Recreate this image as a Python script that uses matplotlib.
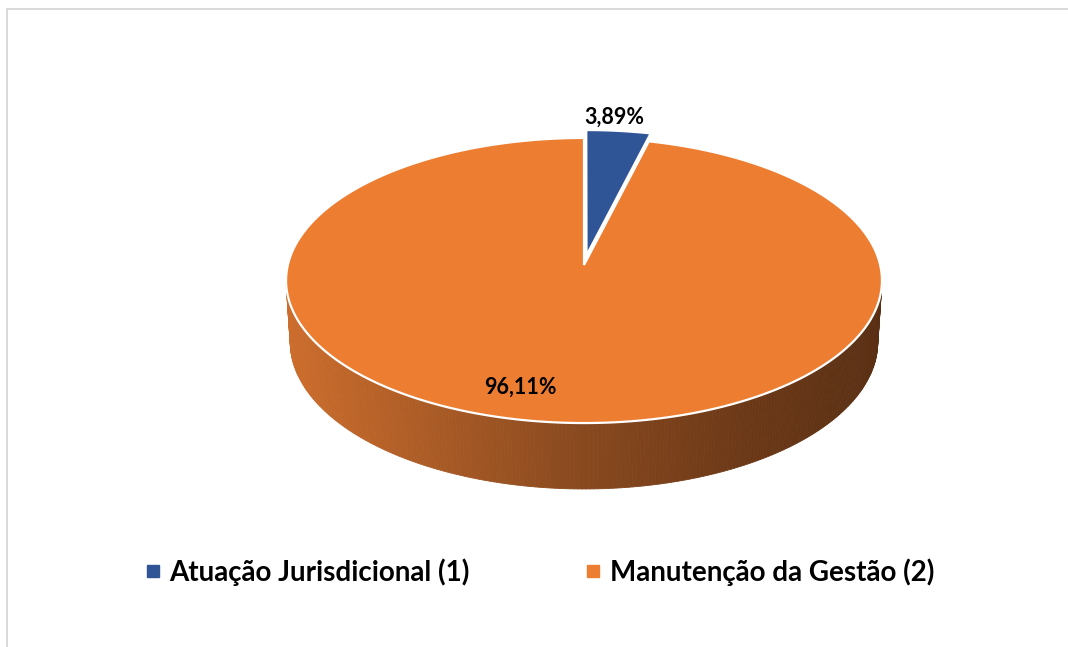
import numpy as np
import matplotlib.pyplot as plt
from matplotlib.patches import Polygon
from matplotlib.lines import Line2D
from matplotlib.colors import LinearSegmentedColormap

categories = ['Atuação Jurisdicional (1)', 'Manutenção da Gestão (2)']
values = [3.89, 96.11]
pct_labels = ['3,89%', '96,11%']
colors = ['#2F5597', '#ED7D31']
explode = [0.07, 0.0]

plt.rcParams['font.family'] = ['Lato', 'DejaVu Sans']

W, H = 1068, 647
fig = plt.figure(figsize=(W / 100, H / 100), dpi=100)
ax = fig.add_axes([0, 0, 1, 1])
ax.set_xlim(0, W)
ax.set_ylim(H, 0)
ax.axis('off')

# simple perspective camera looking down on a unit-radius disc
elev = np.radians(28.4)
dist = 8.09
focal = 2396
thick = 0.2375
cx, cy = 584, 265
ce, se = np.cos(elev), np.sin(elev)


def proj(X, Y, Z):
    X, Y, Z = np.asarray(X, float), np.asarray(Y, float), np.asarray(Z, float)
    depth = dist + Y * ce - Z * se
    up = Y * se + Z * ce
    return cx + focal * X / depth, cy - focal * up / depth


# side wall colours, light on the left, dark on the right
wall_cmap = LinearSegmentedColormap.from_list(
    'wall', [(0, '#CC6D2D'), (0.45, '#8E4C20'), (0.75, '#6E3A18'), (1, '#5A3014')])

total = sum(values)
angles = np.cumsum([0] + [v / total * 360 for v in values])

# angular range of the side wall that faces the viewer
t_sil = np.degrees(np.arccos(-1 / (dist * ce)))

# side walls
for i in range(len(values)):
    a0, a1 = angles[i], angles[i + 1]
    mid = np.radians((a0 + a1) / 2)
    ox, oy = explode[i] * np.sin(mid), explode[i] * np.cos(mid)
    lo, hi = max(a0, t_sil), min(a1, 360 - t_sil)
    if hi <= lo:
        continue
    t = np.radians(np.linspace(lo, hi, 240))
    xt, yt = proj(ox + np.sin(t), oy + np.cos(t), 0 * t)
    xb, yb = proj(ox + np.sin(t), oy + np.cos(t), 0 * t - thick)
    xmin, xmax = xt.min(), xt.max()
    for j in range(len(t) - 1):
        quad = [(xt[j], yt[j]), (xt[j + 1], yt[j + 1]), (xb[j + 1], yb[j + 1]), (xb[j], yb[j])]
        frac = ((xt[j] + xt[j + 1]) / 2 - xmin) / (xmax - xmin)
        col = wall_cmap(frac)
        ax.add_patch(Polygon(quad, closed=True, facecolor=col, edgecolor=col, lw=0.6, zorder=1))

# top faces, biggest slice first so the exploded one sits on top
order = np.argsort(values)[::-1]
for i in order:
    a0, a1 = angles[i], angles[i + 1]
    mid = np.radians((a0 + a1) / 2)
    ox, oy = explode[i] * np.sin(mid), explode[i] * np.cos(mid)
    t = np.radians(np.linspace(a0, a1, 400))
    xr, yr = proj(ox + np.sin(t), oy + np.cos(t), 0 * t)
    ax0, ay0 = proj(ox, oy, 0)
    pts = np.column_stack([np.r_[ax0, xr], np.r_[ay0, yr]])
    ax.add_patch(Polygon(pts, closed=True, facecolor=colors[i], edgecolor='white',
                         lw=1.6, joinstyle='miter', zorder=2))

# data labels
label_r = [1.12, 0.8]
label_dx = [-8, -32]
for i in range(len(values)):
    mid = np.radians((angles[i] + angles[i + 1]) / 2)
    r = explode[i] + label_r[i]
    lx, ly = proj(r * np.sin(mid), r * np.cos(mid), 0)
    ax.text(lx + label_dx[i], ly, pct_labels[i], ha='center', va='center',
            fontsize=15.5, fontweight='bold', color='black', zorder=5)

# legend
handles = [Line2D([], [], marker='s', ls='', color=c, markersize=9) for c in colors]
fig.legend(handles, categories, loc='center', bbox_to_anchor=(540 / W, 1 - 572 / H),
           ncol=2, frameon=False, prop={'size': 20, 'weight': 'bold'},
           handlelength=0.5, handletextpad=0.35, columnspacing=4.2)

# light frame on the top and left
ax.plot([7, 7, W], [H, 9, 9], color='#D9D9D9', lw=1.4, zorder=0, solid_joinstyle='miter')

fig.savefig('out.png', dpi=100)
